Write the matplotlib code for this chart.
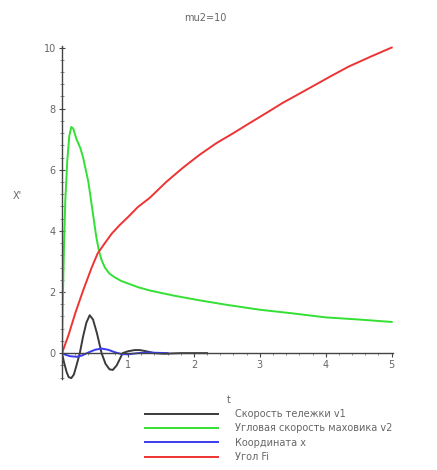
import matplotlib
matplotlib.use("Agg")
import matplotlib.pyplot as plt
from matplotlib.ticker import MultipleLocator, AutoMinorLocator
import numpy as np

# values
t_v1 = [0.0, 0.03, 0.07, 0.10, 0.14, 0.18, 0.22, 0.27, 0.32, 0.37, 0.42, 0.47, 0.53, 0.60, 0.66,
        0.72, 0.77, 0.83, 0.92, 1.0, 1.1, 1.18, 1.28, 1.4, 1.55, 1.8, 2.2]
v1 = [0.0, -0.3, -0.62, -0.78, -0.82, -0.7, -0.4, 0.0, 0.55, 1.0, 1.24, 1.1, 0.65, 0.0, -0.35,
      -0.53, -0.55, -0.4, 0.0, 0.06, 0.1, 0.1, 0.06, 0.0, -0.02, 0.0, 0.0]

t_v2 = [0.0, 0.01, 0.03, 0.05, 0.08, 0.11, 0.14, 0.17, 0.22, 0.28, 0.32, 0.36, 0.40, 0.44, 0.48,
        0.52, 0.56, 0.60, 0.65, 0.72, 0.80, 0.90, 1.0, 1.15, 1.33, 1.7, 2.08, 2.5, 3.0, 3.5,
        4.0, 4.5, 5.0]
v2 = [0.0, 1.5, 3.5, 5.0, 6.3, 7.1, 7.4, 7.35, 7.0, 6.7, 6.4, 6.0, 5.6, 5.0, 4.4,
      3.8, 3.35, 3.05, 2.8, 2.6, 2.48, 2.36, 2.28, 2.16, 2.05, 1.88, 1.73, 1.58, 1.42, 1.3,
      1.17, 1.1, 1.02]

t_x = [0.0, 0.05, 0.12, 0.22, 0.3, 0.4, 0.5, 0.6, 0.7, 0.8, 0.9, 1.0, 1.15, 1.3, 1.6]
x_c = [0.0, -0.05, -0.1, -0.12, -0.08, 0.02, 0.11, 0.15, 0.11, 0.03, -0.03, -0.04, 0.0, 0.02, 0.0]

t_fi = [0.0, 0.1, 0.2, 0.32, 0.45, 0.54, 0.65, 0.75, 0.87, 1.0, 1.15, 1.33, 1.58, 1.83, 2.08,
        2.34, 2.6, 2.84, 3.1, 3.34, 3.6, 3.85, 4.1, 4.35, 4.7, 5.0]
fi = [0.0, 0.6, 1.3, 2.05, 2.8, 3.26, 3.6, 3.9, 4.18, 4.45, 4.78, 5.08, 5.6, 6.06, 6.48,
      6.87, 7.2, 7.52, 7.86, 8.18, 8.49, 8.79, 9.09, 9.38, 9.72, 10.0]

labels = ["Скорость тележки v1", "Угловая скорость маховика v2", "Координата x", "Угол Fi"]
colors = ["#3a3a3a", "#33e033", "#3a3aee", "#ee3333"]

fig = plt.figure(figsize=(4.37, 4.70), dpi=100)
ax = fig.add_axes([0.1419, 0.1934, 0.7574, 0.7087])

lines = []
for tt, yy, c in zip([t_v1, t_v2, t_x, t_fi], [v1, v2, x_c, fi], colors):
    ln, = ax.plot(tt, yy, color=c, lw=1.4)
    lines.append(ln)

ax.set_xlim(0, 5.02)
ax.set_ylim(-0.85, 10.05)

for s in ["top", "right"]:
    ax.spines[s].set_visible(False)
ax.spines["bottom"].set_position(("data", 0))
ax.spines["left"].set_position(("data", 0))
for s in ["bottom", "left"]:
    ax.spines[s].set_color("#444444")
    ax.spines[s].set_linewidth(1.0)

ax.set_xticks([1, 2, 3, 4, 5])
ax.set_yticks([0, 2, 4, 6, 8, 10])
ax.xaxis.set_minor_locator(AutoMinorLocator(5))
ax.yaxis.set_minor_locator(AutoMinorLocator(5))
ax.tick_params(which="major", direction="inout", length=5, width=0.8, color="#444444",
               labelsize=7, labelcolor="#666666", pad=2)
ax.tick_params(which="minor", direction="inout", length=2.5, width=0.6, color="#777777")
ax.tick_params(axis="x", which="major", direction="out", length=3)
ax.tick_params(axis="x", which="minor", direction="out", length=1.5)

fig.text(205 / 437, 1 - 18 / 470, "mu2=10", ha="center", va="center", fontsize=7, color="#666666")
fig.text(17 / 437, 1 - 196 / 470, "X'", ha="center", va="center", fontsize=7, color="#666666")
fig.text(229 / 437, 1 - 400 / 470, "t", ha="center", va="center", fontsize=7, color="#666666")

fig.legend(lines, labels, loc="upper left", bbox_to_anchor=(145 / 437, 1 - 409 / 470),
           frameon=False, fontsize=7, handlelength=7.5, handletextpad=1.8,
           labelspacing=0.45, borderpad=0, borderaxespad=0, labelcolor="#666666")

fig.savefig("out.png", dpi=100)
